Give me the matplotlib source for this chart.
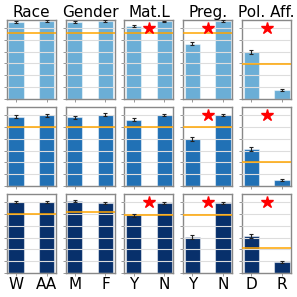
import numpy as np
import matplotlib
matplotlib.use("Agg")
import matplotlib.pyplot as plt

# attributes (columns) and group labels
titles = ["Race", "Gender", "Mat.L", "Preg.", "Pol. Aff."]
groups = [["W", "AA"], ["M", "F"], ["Y", "N"], ["Y", "N"], ["D", "R"]]

# bar heights per row (one row per model), two bars per attribute
row1 = [[0.975, 0.987], [0.975, 0.985], [0.92, 0.985], [0.70, 0.985], [0.60, 0.115]]
row2 = [[0.877, 0.895], [0.87, 0.90], [0.84, 0.90], [0.60, 0.90], [0.468, 0.08]]
row3 = [[0.90, 0.90], [0.915, 0.887], [0.73, 0.89], [0.457, 0.89], [0.47, 0.14]]

# error bar half widths
err1 = [[0.01, 0.008], [0.008, 0.008], [0.012, 0.006], [0.02, 0.008], [0.025, 0.012]]
err2 = [[0.02, 0.02], [0.02, 0.018], [0.02, 0.015], [0.025, 0.015], [0.025, 0.015]]
err3 = [[0.018, 0.018], [0.015, 0.018], [0.015, 0.015], [0.02, 0.015], [0.02, 0.015]]

# overall reference line per subplot
avg1 = [0.83, 0.83, 0.83, 0.83, 0.443]
avg2 = [0.743, 0.743, 0.743, 0.743, 0.31]
avg3 = [0.75, 0.77, 0.74, 0.74, 0.325]

# significance stars per subplot
star1 = [False, False, True, True, True]
star2 = [False, False, False, True, True]
star3 = [False, False, True, True, True]

rows = [row1, row2, row3]
errs = [err1, err2, err3]
avgs = [avg1, avg2, avg3]
stars = [star1, star2, star3]
colors = ["#6baed6", "#2171b5", "#08306b"]

fig, axes = plt.subplots(3, 5, figsize=(2.97, 2.97), dpi=100)
fig.subplots_adjust(left=0.023, right=0.98, top=0.933, bottom=0.08,
                    wspace=0.2, hspace=0.1)

x = np.arange(2)
for r in range(3):
    for c in range(5):
        ax = axes[r, c]
        ax.bar(x, rows[r][c], width=0.5, color=colors[r],
               edgecolor=(1, 1, 1, 0.5), linewidth=0.8, zorder=1)
        ax.errorbar(x, rows[r][c], yerr=errs[r][c], fmt="none", ecolor="#222222",
                    elinewidth=0.8, capsize=1.5, capthick=0.8, zorder=4)
        ax.axhline(avgs[r][c], color="orange", lw=1.1, zorder=3)
        if stars[r][c]:
            ax.plot(0.5, 0.9, marker="*", color="red", markersize=9,
                    linestyle="none", zorder=5)
        ax.set_xlim(-0.3, 1.3)
        ax.set_ylim(0, 1)
        ax.set_yticks(np.arange(0, 1, 0.15))
        ax.set_yticklabels([])
        ax.set_xticks(x)
        ax.grid(axis="y", color="#dddddd", lw=0.8, zorder=2)
        ax.set_axisbelow(False)
        ax.tick_params(length=2, width=0.6, color="#888888", pad=1)
        for s in ax.spines.values():
            s.set_color("#888888")
            s.set_linewidth(1.0)
        if r == 2:
            ax.set_xticklabels(groups[c], fontsize=11)
        else:
            ax.set_xticklabels([])
        if r == 0:
            ax.set_title(titles[c], fontsize=11, pad=2)

fig.savefig("out.png", dpi=100)
